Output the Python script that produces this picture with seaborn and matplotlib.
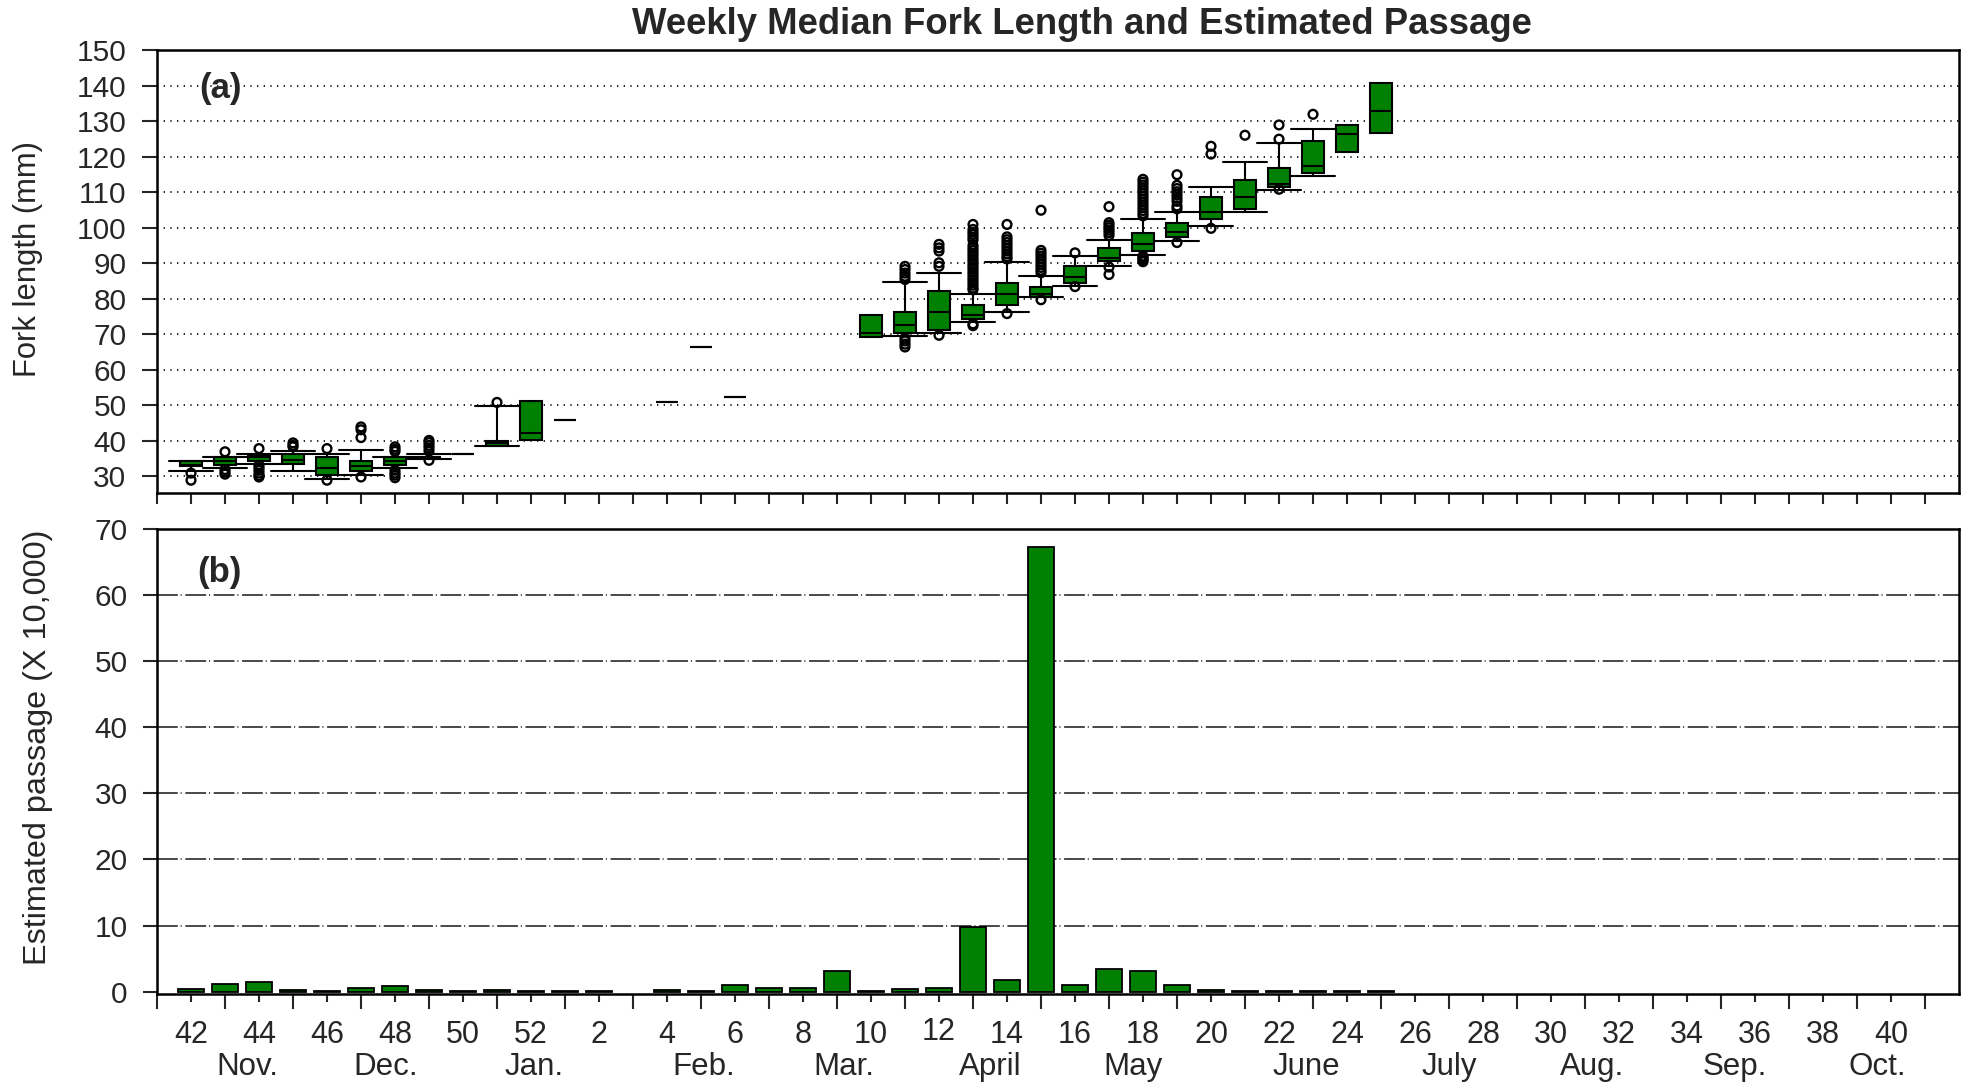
import numpy as np
import pandas as pd
import matplotlib
matplotlib.use("Agg")
import matplotlib.pyplot as plt
import matplotlib.transforms as mtransforms
from matplotlib.ticker import FixedLocator, NullFormatter
import seaborn as sns

# ---------------- data ----------------
# x index: 0 = week 42 (October) ... 51 = week 41 of following year
week_tick_labels = ["42", "44", "46", "48", "50", "52", "2", "4", "6", "8", "10", "12", "14",
                    "16", "18", "20", "22", "24", "26", "28", "30", "32", "34", "36", "38", "40"]
month_names = ["Nov.", "Dec.", "Jan.", "Feb.", "Mar.", "April", "May", "June",
               "July", "Aug.", "Sep.", "Oct."]
month_pos = [1.66, 5.74, 10.1, 15.07, 19.2, 23.5, 27.7, 32.8, 37.0, 41.2, 45.4, 49.6]

# (a) boxes with whiskers: index, low whisker, q1, median, q3, high whisker
box_pos = [0, 1, 2, 3, 4, 5, 6, 7, 9, 21, 22, 23, 24, 25, 26, 27, 28, 29, 30, 31, 32, 33]
box_lo  = [31.4, 32.3, 33.4, 31.4, 29.3, 30.3, 32.3, 34.9, 38.5, 69.4, 70.4, 73.3, 76.3, 80.4,
           83.6, 89.3, 92.4, 96.3, 100.5, 104.4, 110.5, 114.4]
box_q1  = [32.8, 33.3, 34.4, 33.4, 30.3, 31.4, 33.3, 34.9, 38.5, 70.4, 71.2, 74.3, 78.3, 80.5,
           84.4, 90.5, 93.4, 97.3, 102.3, 105.3, 111.5, 115.5]
box_med = [33.3, 34.2, 35.4, 34.5, 32.4, 32.8, 34.2, 35.3, 39.4, 72.5, 76.3, 75.3, 81.4, 81.4,
           86.2, 91.4, 95.5, 98.9, 104.4, 108.5, 112.4, 117.4]
box_q3  = [34.2, 35.3, 36.1, 36.2, 35.4, 34.4, 35.3, 35.5, 40.0, 76.3, 82.1, 78.3, 84.3, 83.4,
           89.3, 94.3, 98.4, 101.4, 108.5, 113.4, 116.9, 124.5]
box_hi  = [34.4, 35.4, 36.3, 37.0, 36.2, 37.3, 35.4, 36.4, 49.7, 84.8, 87.3, 81.4, 90.4, 86.3,
           92.0, 96.4, 102.3, 104.4, 111.4, 118.4, 123.9, 127.8]

# (a) boxes without whiskers and single-value weeks
plain_pos = [10, 20, 34, 35, 8, 11, 14, 15, 16]
plain_lo  = [40.3, 69.3, 121.4, 126.6, 36.4, 45.8, 50.8, 66.3, 52.3]
plain_med = [42.3, 70.3, 126.4, 132.9, 36.4, 45.8, 50.8, 66.3, 52.3]
plain_hi  = [51.2, 75.3, 128.9, 140.7, 36.4, 45.8, 50.8, 66.3, 52.3]

# (a) outliers per index
outliers = {
    0: [30.9, 28.9],
    1: [36.9, 31.9, 31.2, 30.6],
    2: [37.8, 33.1, 32.4, 31.7, 30.9, 30.2, 29.8],
    3: [39.4, 38.7, 38.3],
    4: [37.8, 28.9],
    5: [43.9, 43.1, 40.9, 29.8],
    6: [38.3, 37.6, 37.0, 31.7, 30.9, 30.3, 29.6],
    7: [40.1, 39.5, 38.7, 38.0, 37.1, 34.5],
    9: [50.8],
    21: [89.1, 88.2, 87.2, 86.3, 85.4, 68.9, 68.1, 67.2, 66.4],
    22: [95.3, 94.3, 93.4, 90.1, 89.1, 69.7],
    23: [100.9, 99.5, 98.7, 98.0, 97.2, 96.5, 95.0, 94.2, 93.5, 92.7, 92.0, 91.2, 90.5,
         89.7, 89.0, 88.3, 87.5, 86.8, 86.0, 85.3, 84.5, 83.8, 83.0, 82.5, 72.9, 72.4],
    24: [100.9, 97.4, 96.6, 95.8, 95.0, 94.2, 93.4, 92.6, 91.8, 91.2, 75.8],
    25: [104.9, 93.6, 92.8, 92.0, 91.2, 90.4, 89.6, 88.8, 88.0, 87.3, 79.7],
    26: [92.9, 83.4],
    27: [105.9, 101.4, 100.7, 100.0, 99.3, 98.6, 97.8, 88.9, 86.8],
    28: [113.6, 112.8, 112.0, 111.2, 110.4, 109.6, 108.8, 108.0, 107.2, 106.4, 105.6, 104.8,
         104.0, 103.3, 92.0, 91.6, 91.2, 90.8, 90.4],
    29: [114.9, 111.9, 111.0, 110.1, 109.2, 108.3, 107.4, 106.1, 105.3, 95.8],
    30: [122.9, 120.7, 99.8],
    31: [126.0],
    32: [128.9, 124.9, 110.8],
    33: [131.9],
}

# (b) weekly estimated passage (x 10,000)
bar_pos  = [0, 1, 2, 3, 4, 5, 6, 7, 8, 9, 10, 11, 12,
            14, 15, 16, 17, 18, 19, 20, 21, 22, 23, 24, 25, 26, 27, 28, 29, 30, 31, 32, 33, 34, 35]
bar_vals = [0.35, 1.16, 1.46, 0.25, 0.15, 0.5, 0.9, 0.3, 0.15, 0.2, 0.1, 0.1, 0.15,
            0.25, 0.1, 1.06, 0.6, 0.6, 3.1, 0.1, 0.4, 0.6, 9.8, 1.77, 67.3, 0.96, 3.4, 3.08,
            0.96, 0.3, 0.15, 0.15, 0.15, 0.1, 0.1]

# ---------------- style ----------------
sns.set_theme(style="white")
plt.rcParams["font.family"] = ["Liberation Sans", "DejaVu Sans"]
plt.rcParams["axes.linewidth"] = 1.8
plt.rcParams["axes.edgecolor"] = "black"

GREEN = "#008000"
W, H = 1971, 1086
fig = plt.figure(figsize=(W / 100, H / 100), dpi=100)
fig.patch.set_facecolor("white")

def frac_rect(l, t, r, b):
    return [l / W, 1 - b / H, (r - l) / W, (b - t) / H]

ax1 = fig.add_axes(frac_rect(157, 50, 1959, 493))
ax2 = fig.add_axes(frac_rect(157, 529, 1959, 994))

# ---------------- panel (a) ----------------
df_box = pd.DataFrame({
    "pos": np.repeat(np.array(box_pos, float), 5),
    "val": np.column_stack([box_lo, box_q1, box_med, box_q3, box_hi]).ravel(),
})
df_plain = pd.DataFrame({
    "pos": np.repeat(np.array(plain_pos, float), 5),
    "val": np.column_stack([plain_lo, plain_lo, plain_med, plain_hi, plain_hi]).ravel(),
})
common = dict(x="pos", y="val", native_scale=True, whis=(0, 100), width=0.63,
              color=GREEN, linecolor="black", linewidth=1.5, saturation=1,
              fliersize=0, ax=ax1)
sns.boxplot(data=df_box, capwidths=1.27, **common)
sns.boxplot(data=df_plain, showcaps=False, **common)

out_x, out_y = [], []
for k, vals in outliers.items():
    out_x += [k] * len(vals)
    out_y += vals
sns.scatterplot(x=out_x, y=out_y, marker="o", s=40, facecolor="none",
                edgecolor="black", linewidth=1.7, ax=ax1, zorder=5)

ax1.set_xlim(-1, 52)
ax1.set_ylim(25.3, 150)
ax1.set_yticks(np.arange(30, 151, 10))
ax1.xaxis.set_major_locator(FixedLocator(np.arange(-1, 52)))
ax1.xaxis.set_major_formatter(NullFormatter())
ax1.set_xlabel("")
ax1.set_ylabel("")
ax1.tick_params(axis="x", direction="out", length=8, width=1.5, bottom=True)
ax1.tick_params(axis="y", direction="out", length=11, width=1.5, left=True,
                labelsize=21.5, pad=11)
ax1.yaxis.grid(True, linestyle=(0, (0.8, 3.2)), color="black", linewidth=1.2)
ax1.xaxis.grid(False)
ax1.set_axisbelow(True)
ax1.text(0.0233, 0.914, "(a)", transform=ax1.transAxes, fontsize=25,
         fontweight="bold", ha="left", va="center")

# ---------------- panel (b) ----------------
sns.barplot(x=bar_pos, y=bar_vals, native_scale=True, width=0.76, color=GREEN,
            saturation=1, edgecolor="black", linewidth=1.3, errorbar=None, ax=ax2,
            zorder=3)
ax2.set_xlim(-1, 52)
ax2.set_ylim(-0.35, 70)
ax2.set_yticks(np.arange(0, 71, 10))
ax2.xaxis.set_major_locator(FixedLocator(np.arange(0, 51, 2)))
ax2.set_xticklabels(week_tick_labels)
ax2.xaxis.set_minor_locator(FixedLocator(np.arange(-1, 52, 2)))
ax2.tick_params(axis="x", which="major", direction="out", length=6, width=1.5,
                bottom=True, labelsize=22, pad=12.5)
ax2.tick_params(axis="x", which="minor", direction="out", length=11, width=1.5,
                bottom=True)
ax2.tick_params(axis="y", direction="out", length=10, width=1.5, left=True,
                labelsize=21.5, pad=11)
ax2.grid(False)
for gy in np.arange(10, 61, 10):
    ax2.axhline(gy, color="#3a3a3a", linewidth=1.3,
                linestyle=(0, (11.5, 1.6, 0.6, 2.0)), zorder=1)
ax2.set_xlabel("")
ax2.set_ylabel("")
ax2.text(0.0222, 0.9075, "(b)", transform=ax2.transAxes, fontsize=25,
         fontweight="bold", ha="left", va="center")

# the "12" label sits a little higher in the original
lbl12 = ax2.get_xticklabels()[week_tick_labels.index("12")]
lbl12.set_transform(lbl12.get_transform() +
                    mtransforms.ScaledTranslation(0, 3 / 100, fig.dpi_scale_trans))

trans = mtransforms.blended_transform_factory(ax2.transData, fig.transFigure)
for name, xp in zip(month_names, month_pos):
    ax2.text(xp, 1 - 1067 / H, name, transform=trans, fontsize=22.5,
             ha="center", va="center")

for ax in (ax1, ax2):
    for sp in ax.spines.values():
        sp.set_visible(True)
        sp.set_linewidth(1.8)
        sp.set_color("black")

# ---------------- labels ----------------
fig.text(28 / W, 1 - 259 / H, "Fork length (mm)", rotation=90, fontsize=22.3,
         ha="center", va="center")
fig.text(38 / W, 1 - 747 / H, "Estimated passage (X 10,000)", rotation=90,
         fontsize=23.3, ha="center", va="center")
fig.text(1082 / W, 1 - 25 / H, "Weekly Median Fork Length and Estimated Passage",
         fontsize=26.3, fontweight="bold", ha="center", va="center")

fig.savefig("out.png", dpi=100, facecolor="white")
